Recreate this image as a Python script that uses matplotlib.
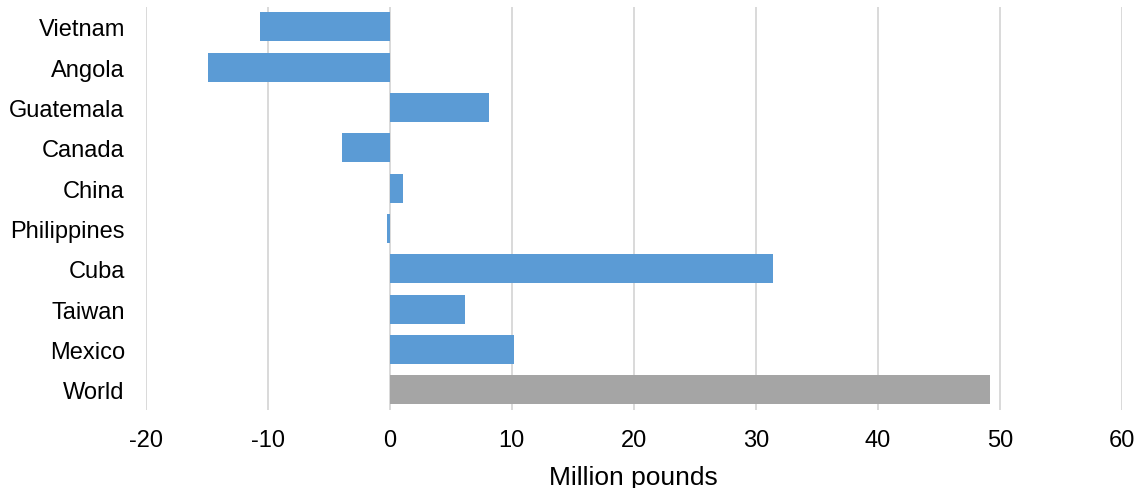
import matplotlib
matplotlib.use("Agg")
import matplotlib.pyplot as plt

countries = ["Vietnam", "Angola", "Guatemala", "Canada", "China",
             "Philippines", "Cuba", "Taiwan", "Mexico", "World"]
values = [-10.6, -14.9, 8.1, -3.9, 1.07, -0.25, 31.4, 6.15, 10.15, 49.2]
bar_colors = ["#5B9BD5"] * 9 + ["#A5A5A5"]
xticks = [-20, -10, 0, 10, 20, 30, 40, 50, 60]

plt.rcParams['font.family'] = ['Liberation Sans', 'DejaVu Sans']

fig = plt.figure(figsize=(11.38, 4.89), dpi=100)
ax = fig.add_axes([0.128, 0.160, 0.858, 0.824])

y = list(range(len(countries)))
ax.barh(y, values, height=0.72, color=bar_colors, zorder=3)
ax.set_ylim(len(countries) - 0.5, -0.5)
ax.set_xlim(-20, 60)
ax.set_xticks(xticks)
ax.set_xticklabels([str(t) for t in xticks])
ax.set_yticks(y)
ax.set_yticklabels(countries)
ax.tick_params(axis='both', length=0, labelsize=17, colors='#000000')
ax.tick_params(axis='x', pad=14)
ax.tick_params(axis='y', pad=15)
ax.xaxis.grid(True, color='#D9D9D9', linewidth=1.4, zorder=0)
ax.set_axisbelow(True)
for s in ax.spines.values():
    s.set_visible(False)
ax.set_xlabel("Million pounds", fontsize=19, labelpad=10)

fig.savefig("out.png", dpi=100)
